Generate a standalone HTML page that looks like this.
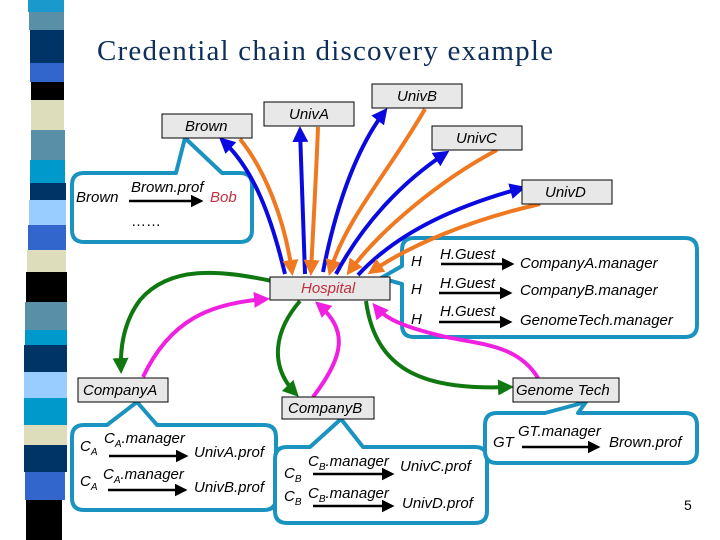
<!DOCTYPE html>
<html><head><meta charset="utf-8"><style>
html,body{margin:0;padding:0;background:#fff;}
svg{display:block;}
text{font-family:"Liberation Sans",sans-serif;font-style:italic;font-size:15px;}
.t{font-family:"Liberation Serif",serif;font-style:normal;font-size:29px;fill:#0d2f5a;}
.box{fill:#e8e8e8;stroke:#000;stroke-width:1;}
.co{fill:#fff;stroke:#1a93c0;stroke-width:4;stroke-linejoin:round;}
.bl{fill:none;stroke:#0a0ae0;stroke-width:4;}
.or{fill:none;stroke:#f07820;stroke-width:4;}
.gr{fill:none;stroke:#107810;stroke-width:4;}
.mg{fill:none;stroke:#f020e0;stroke-width:4;}
.ar{stroke:#000;stroke-width:2.5;}
</style></head><body>
<svg width="720" height="540" viewBox="0 0 720 540" xmlns="http://www.w3.org/2000/svg">
<defs>
<marker id="mb" markerWidth="4" markerHeight="4" refX="3" refY="2" orient="auto"><path d="M0,0L4,2L0,4z" fill="#0a0ae0"/></marker>
<marker id="mo" markerWidth="4" markerHeight="4" refX="3" refY="2" orient="auto"><path d="M0,0L4,2L0,4z" fill="#f07820"/></marker>
<marker id="mg" markerWidth="4" markerHeight="4" refX="3" refY="2" orient="auto"><path d="M0,0L4,2L0,4z" fill="#107810"/></marker>
<marker id="mm" markerWidth="4" markerHeight="4" refX="3" refY="2" orient="auto"><path d="M0,0L4,2L0,4z" fill="#f020e0"/></marker>
<marker id="mk" markerWidth="5" markerHeight="5" refX="4" refY="2.5" orient="auto"><path d="M0,0L5,2.5L0,5z" fill="#000"/></marker>
</defs>
<!-- left stripe bar -->
<g>
<rect x="28" y="0" width="36" height="12" fill="#1a9acc"/>
<rect x="29" y="12" width="35" height="18" fill="#5a8fa8"/>
<rect x="30" y="30" width="34" height="33" fill="#003366"/>
<rect x="30" y="63" width="34" height="19" fill="#3366cc"/>
<rect x="31" y="82" width="33" height="18" fill="#000"/>
<rect x="31" y="100" width="33" height="30" fill="#ddddbb"/>
<rect x="31" y="130" width="34" height="30" fill="#5a8fa8"/>
<rect x="30" y="160" width="35" height="23" fill="#0099cc"/>
<rect x="30" y="183" width="36" height="17" fill="#003366"/>
<rect x="29" y="200" width="37" height="25" fill="#99ccff"/>
<rect x="28" y="225" width="38" height="25" fill="#3366cc"/>
<rect x="27" y="250" width="39" height="22" fill="#ddddbb"/>
<rect x="26" y="272" width="41" height="30" fill="#000"/>
<rect x="25" y="302" width="42" height="28" fill="#5a8fa8"/>
<rect x="25" y="330" width="42" height="15" fill="#0099cc"/>
<rect x="24" y="345" width="43" height="27" fill="#003366"/>
<rect x="24" y="372" width="43" height="26" fill="#99ccff"/>
<rect x="24" y="398" width="43" height="27" fill="#0099cc"/>
<rect x="24" y="425" width="43" height="20" fill="#ddddbb"/>
<rect x="24" y="445" width="43" height="27" fill="#003366"/>
<rect x="25" y="472" width="40" height="28" fill="#3366cc"/>
<rect x="26" y="500" width="36" height="40" fill="#000"/>
</g>
<text class="t" x="97" y="60" textLength="456">Credential chain discovery example</text>

<!-- callouts -->
<path class="co" d="M84,173 H176 L185,138 L222,173 H240 Q252,173 252,185 V230 Q252,242 240,242 H84 Q72,242 72,230 V185 Q72,173 84,173 Z"/>
<path class="co" d="M414,238 H685 Q697,238 697,250 V325 Q697,337 685,337 H414 Q402,337 402,325 V284 L381,278 L402,266 V250 Q402,238 414,238 Z"/>
<path class="co" d="M84,425 H107 L137,402 L157,425 H264 Q276,425 276,437 V498 Q276,510 264,510 H84 Q72,510 72,498 V437 Q72,425 84,425 Z"/>
<path class="co" d="M287,447 H310 L341,419 L363,447 H475 Q487,447 487,459 V511 Q487,523 475,523 H287 Q275,523 275,511 V459 Q275,447 287,447 Z"/>
<path class="co" d="M497,413 H545 L586,402 L578,413 H685 Q697,413 697,425 V451 Q697,463 685,463 H497 Q485,463 485,451 V425 Q485,413 497,413 Z"/>

<!-- connectors to univ boxes -->
<path class="bl" marker-end="url(#mb)" d="M285,274 C272,220 255,170 222,140"/>
<path class="or" marker-end="url(#mo)" d="M240,139 C265,170 285,220 292,272"/>
<path class="bl" marker-end="url(#mb)" d="M305,274 C303,220 301,170 300,130"/>
<path class="or" marker-end="url(#mo)" d="M318,127 C316,180 313,230 311,272"/>
<path class="bl" marker-end="url(#mb)" d="M323,272 C335,210 355,150 385,111"/>
<path class="or" marker-end="url(#mo)" d="M425,109 C390,170 345,220 330,272"/>
<path class="bl" marker-end="url(#mb)" d="M336,274 C365,220 405,180 446,153"/>
<path class="or" marker-end="url(#mo)" d="M497,150 C440,180 380,230 349,272"/>
<path class="bl" marker-end="url(#mb)" d="M358,275 C400,230 460,205 522,188"/>
<path class="or" marker-end="url(#mo)" d="M540,204 C470,220 410,245 371,272"/>

<!-- green/magenta -->
<path class="gr" marker-end="url(#mg)" d="M272,281 C220,270 170,265 140,300 C125,320 120,345 121,370"/>
<path class="mg" marker-end="url(#mm)" d="M143,377 C170,320 210,303 266,299"/>
<path class="gr" marker-end="url(#mg)" d="M300,301 C275,330 268,365 296,394"/>
<path class="mg" marker-end="url(#mm)" d="M313,397 C345,355 348,330 318,304"/>
<path class="gr" marker-end="url(#mg)" d="M366,301 C376,375 430,390 510,387"/>
<path class="mg" marker-end="url(#mm)" d="M538,378 C515,340 470,345 430,333 C400,325 385,318 375,306"/>

<!-- boxes -->
<rect class="box" x="162" y="114" width="90" height="24"/><text x="185" y="131">Brown</text>
<rect class="box" x="264" y="102" width="90" height="24"/><text x="289" y="119">UnivA</text>
<rect class="box" x="372" y="84" width="90" height="24"/><text x="397" y="101">UnivB</text>
<rect class="box" x="432" y="126" width="90" height="24"/><text x="456" y="143">UnivC</text>
<rect class="box" x="522" y="180" width="90" height="24"/><text x="545" y="197">UnivD</text>
<rect class="box" x="270" y="277" width="120" height="23"/><text x="301" y="293" fill="#c03040">Hospital</text>
<rect class="box" x="78" y="378" width="90" height="24"/><text x="83" y="395">CompanyA</text>
<rect class="box" x="282" y="397" width="92" height="22"/><text x="288" y="413">CompanyB</text>
<rect class="box" x="513" y="378" width="106" height="24"/><text x="516" y="395">Genome Tech</text>

<!-- Brown callout text -->
<text x="76" y="202">Brown</text>
<text x="131" y="192">Brown.prof</text>
<line class="ar" x1="129" y1="201" x2="201" y2="201" marker-end="url(#mk)"/>
<text x="210" y="202" fill="#c03040">Bob</text>
<text x="131" y="226" style="font-style:normal">……</text>

<!-- Hospital callout text -->
<text x="411" y="266">H</text><text x="440" y="259">H.Guest</text>
<line class="ar" x1="441" y1="264" x2="512" y2="264" marker-end="url(#mk)"/>
<text x="520" y="268">CompanyA.manager</text>
<text x="411" y="294">H</text><text x="440" y="288">H.Guest</text>
<line class="ar" x1="439" y1="293" x2="510" y2="293" marker-end="url(#mk)"/>
<text x="520" y="295">CompanyB.manager</text>
<text x="411" y="324">H</text><text x="440" y="316">H.Guest</text>
<line class="ar" x1="439" y1="322" x2="510" y2="322" marker-end="url(#mk)"/>
<text x="520" y="325">GenomeTech.manager</text>

<!-- CompanyA callout -->
<text x="80" y="451">C<tspan font-size="10" dy="4">A</tspan></text>
<text x="104" y="443">C<tspan font-size="10" dy="4">A</tspan><tspan dy="-4">.manager</tspan></text>
<line class="ar" x1="109" y1="456" x2="186" y2="456" marker-end="url(#mk)"/>
<text x="194" y="457">UnivA.prof</text>
<text x="80" y="486">C<tspan font-size="10" dy="4">A</tspan></text>
<text x="103" y="479">C<tspan font-size="10" dy="4">A</tspan><tspan dy="-4">.manager</tspan></text>
<line class="ar" x1="108" y1="490" x2="185" y2="490" marker-end="url(#mk)"/>
<text x="194" y="492">UnivB.prof</text>

<!-- CompanyB callout -->
<text x="284" y="478">C<tspan font-size="10" dy="4">B</tspan></text>
<text x="308" y="466">C<tspan font-size="10" dy="4">B</tspan><tspan dy="-4">.manager</tspan></text>
<line class="ar" x1="313" y1="474" x2="392" y2="474" marker-end="url(#mk)"/>
<text x="400" y="471">UnivC.prof</text>
<text x="284" y="501">C<tspan font-size="10" dy="4">B</tspan></text>
<text x="308" y="498">C<tspan font-size="10" dy="4">B</tspan><tspan dy="-4">.manager</tspan></text>
<line class="ar" x1="313" y1="506" x2="392" y2="506" marker-end="url(#mk)"/>
<text x="402" y="508">UnivD.prof</text>

<!-- GT callout -->
<text x="493" y="447">GT</text>
<text x="518" y="436">GT.manager</text>
<line class="ar" x1="522" y1="447" x2="598" y2="447" marker-end="url(#mk)"/>
<text x="609" y="447">Brown.prof</text>

<text x="684" y="510" style="font-style:normal;font-size:14px">5</text>
</svg>
</body></html>
